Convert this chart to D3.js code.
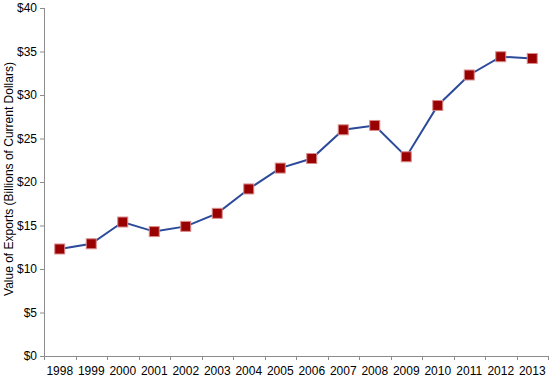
<html>
<head>
<style>
  body { margin: 0; background: #fff; }
  svg text { font-family: "Liberation Sans", Arial, sans-serif; font-size: 12px; fill: #000; }
  .axis path, .axis line { stroke: #8c8c8c; }
</style>
</head>
<body>
<div id="container"></div>
<script src="https://d3js.org/d3.v7.min.js"></script>
<script>
var years = ["1998","1999","2000","2001","2002","2003","2004","2005","2006","2007","2008","2009","2010","2011","2012","2013"];
var exports = [12.3, 12.9, 15.4, 14.3, 14.9, 16.4, 19.2, 21.6, 22.7, 26.0, 26.5, 22.9, 28.8, 32.3, 34.4, 34.2];
var yTicks = [0, 5, 10, 15, 20, 25, 30, 35, 40];

var W = 551, H = 378;
var margin = {top: 8, right: 3, bottom: 22, left: 44};
var width = W - margin.left - margin.right,
    height = H - margin.top - margin.bottom;

var svg = d3.select("#container").append("svg")
    .attr("width", W).attr("height", H);

var g = svg.append("g").attr("transform", "translate(" + margin.left + "," + margin.top + ")");

var x = d3.scaleBand().domain(years).range([0, width]);
var y = d3.scaleLinear().domain([0, 40]).range([height, 0]);

// y axis
var yAxis = g.append("g").attr("class", "axis")
    .call(d3.axisLeft(y).tickValues(yTicks).tickSize(4).tickPadding(3)
      .tickFormat(function(d) { return "$" + d; }));
yAxis.select(".domain").attr("d", "M0.5," + height + "V0");
yAxis.selectAll("text").style("font-size", "12px");

// x axis, ticks sit between the years
var xg = g.append("g").attr("class", "axis")
    .attr("transform", "translate(0," + height + ")");
xg.append("line").attr("x1", 0).attr("x2", width).attr("y1", 0.5).attr("y2", 0.5);
xg.selectAll(".tk").data(years.concat(["end"])).enter().append("line")
    .attr("class", "tk")
    .attr("x1", function(d, i) { return Math.round(i * x.bandwidth()) + 0.5; })
    .attr("x2", function(d, i) { return Math.round(i * x.bandwidth()) + 0.5; })
    .attr("y1", 0).attr("y2", 4);
xg.selectAll("text").data(years).enter().append("text")
    .attr("x", function(d) { return x(d) + x.bandwidth() / 2; })
    .attr("y", 19)
    .attr("text-anchor", "middle")
    .text(function(d) { return d; });

// y label
svg.append("text")
    .attr("transform", "translate(13,179) rotate(-90)")
    .attr("text-anchor", "middle")
    .text("Value of Exports (Billions of Current Dollars)");

var cx = function(d, i) { return x(years[i]) + x.bandwidth() / 2; };

var line = d3.line()
    .x(function(d, i) { return cx(d, i); })
    .y(function(d) { return y(d); });

g.append("path").datum(exports)
    .attr("fill", "none")
    .attr("stroke", "#2b4a9a")
    .attr("stroke-width", 2)
    .attr("d", line);

var s = 10;
g.selectAll(".pt").data(exports).enter().append("rect")
    .attr("class", "pt")
    .attr("x", function(d, i) { return cx(d, i) - s / 2; })
    .attr("y", function(d) { return y(d) - s / 2; })
    .attr("width", s).attr("height", s)
    .attr("fill", "#990000")
    .attr("stroke", "#d98c8c")
    .attr("stroke-width", 1);
</script>
</body>
</html>
